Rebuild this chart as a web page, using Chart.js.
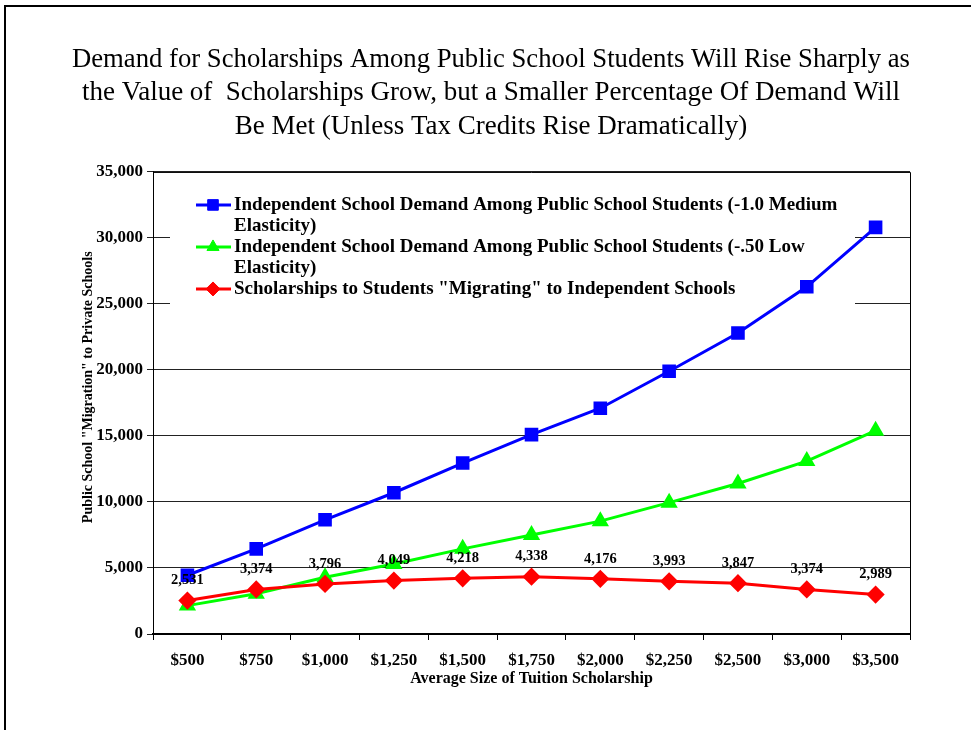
<!DOCTYPE html>
<html lang="en">
<head>
<meta charset="UTF-8">
<title>Demand for Scholarships</title>
<script src="https://cdn.jsdelivr.net/npm/chart.js@4.4.0/dist/chart.umd.min.js"></script>
<style>
  body { margin: 0; background: #fff; }
  canvas { display: block; }
  #frame {
    position: absolute; left: 4px; top: 5px; right: 0; bottom: 0;
    border-left: 2px solid #000; border-top: 2px solid #000;
    pointer-events: none;
  }
</style>
</head>
<body>
<canvas id="chart" width="971" height="730"></canvas>
<div id="frame"></div>
<script>
// average tuition scholarship sizes
const tuitionLabels = ['$500', '$750', '$1,000', '$1,250', '$1,500', '$1,750', '$2,000', '$2,250', '$2,500', '$3,000', '$3,500'];

// demand among public school students, -1.0 (medium) elasticity
const mediumDemand = [4450, 6450, 8650, 10700, 12950, 15100, 17100, 19900, 22800, 26300, 30800];

// demand among public school students, -.50 (low) elasticity
const lowDemand = [2150, 3050, 4300, 5300, 6450, 7500, 8550, 9950, 11400, 13100, 15400];

// scholarships to "migrating" students
const scholarships = [2531, 3374, 3796, 4049, 4218, 4338, 4176, 3993, 3847, 3374, 2989];

const seriesNames = [
  'Independent School Demand Among Public School Students (-1.0 Medium\nElasticity)',
  'Independent School Demand Among Public School Students (-.50 Low\nElasticity)',
  'Scholarships to Students "Migrating" to Independent Schools'
];

const yTicks = { min: 0, max: 35000, step: 5000 };

const serif = "'Liberation Serif', 'Times New Roman', serif";
Chart.defaults.font.family = serif;
Chart.defaults.color = '#000';

const fmt = v => Number(v).toLocaleString('en-US');

// legend sits inside the plot, on a white box over the gridlines
const insideLegend = {
  id: 'insideLegend',
  beforeDatasetsDraw(chart) {
    const { ctx, chartArea } = chart;
    const left = chartArea.left + 17;
    const top = chartArea.top + 7;
    const right = chartArea.right - 55;
    const bottom = chartArea.top + 138;
    ctx.save();
    ctx.fillStyle = '#fff';
    ctx.fillRect(left, top, right - left, bottom - top);

    // plot frame (top + right)
    ctx.strokeStyle = '#000';
    ctx.lineWidth = 1;
    ctx.beginPath();
    ctx.moveTo(chartArea.left, chartArea.top + 0.5);
    ctx.lineTo(chartArea.right + 0.5, chartArea.top + 0.5);
    ctx.lineTo(chartArea.right + 0.5, chartArea.bottom);
    ctx.stroke();

    ctx.font = 'bold 19px ' + serif;
    ctx.textBaseline = 'middle';
    ctx.textAlign = 'left';
    let y = chartArea.top + 33;
    chart.data.datasets.forEach(ds => {
      ctx.strokeStyle = ds.borderColor;
      ctx.lineWidth = 3;
      ctx.beginPath();
      ctx.moveTo(left + 26, y);
      ctx.lineTo(left + 61, y);
      ctx.stroke();
      ctx.fillStyle = ds.pointBackgroundColor;
      ctx.strokeStyle = ds.pointBorderColor;
      ctx.lineWidth = 1;
      Chart.helpers.drawPoint(ctx, {
        pointStyle: ds.pointStyle, radius: ds.pointRadius, rotation: 0, borderWidth: 1
      }, left + 43, y);
      ctx.fillStyle = '#000';
      const lines = ds.label.split('\n');
      lines.forEach((t, k) => ctx.fillText(t, left + 64, y + k * 21));
      y += lines.length * 21;
    });
    ctx.restore();
  }
};

// value labels above the scholarship points
const valueLabels = {
  id: 'valueLabels',
  afterDatasetsDraw(chart) {
    const { ctx } = chart;
    const idx = 2;
    const meta = chart.getDatasetMeta(idx);
    const data = chart.data.datasets[idx].data;
    ctx.save();
    ctx.font = 'bold 14.5px ' + serif;
    ctx.fillStyle = '#000';
    ctx.textAlign = 'center';
    ctx.textBaseline = 'middle';
    meta.data.forEach((pt, i) => {
      ctx.fillText(fmt(data[i]), pt.x, pt.y - 20);
    });
    ctx.restore();
  }
};

new Chart(document.getElementById('chart'), {
  type: 'line',
  data: {
    labels: tuitionLabels,
    datasets: [
      {
        label: seriesNames[0],
        data: mediumDemand,
        borderColor: '#0000ff',
        backgroundColor: '#0000ff',
        pointBackgroundColor: '#0000ff',
        pointBorderColor: '#0000ff',
        pointStyle: 'rect',
        pointRadius: 7.5,
        borderWidth: 3,
        order: 2
      },
      {
        label: seriesNames[1],
        data: lowDemand,
        borderColor: '#00ff00',
        backgroundColor: '#00ff00',
        pointBackgroundColor: '#00ff00',
        pointBorderColor: '#00ff00',
        pointStyle: 'triangle',
        pointRadius: 7,
        borderWidth: 3,
        order: 1
      },
      {
        label: seriesNames[2],
        data: scholarships,
        borderColor: '#ff0000',
        backgroundColor: '#ff0000',
        pointBackgroundColor: '#ff0000',
        pointBorderColor: '#ff0000',
        pointStyle: 'rectRot',
        pointRadius: 7,
        borderWidth: 3,
        order: 0
      }
    ]
  },
  options: {
    responsive: false,
    animation: false,
    events: [],
    layout: { padding: { left: 72, right: 61, top: 0, bottom: 43 } },
    plugins: {
      legend: { display: false },
      tooltip: { enabled: false },
      title: {
        display: true,
        text: [
          'Demand for Scholarships Among Public School Students Will Rise Sharply as',
          'the Value of  Scholarships Grow, but a Smaller Percentage Of Demand Will',
          'Be Met (Unless Tax Credits Rise Dramatically)'
        ],
        color: '#000',
        font: { size: 27, weight: 'normal', lineHeight: 1.24 },
        padding: { top: 43, bottom: 28.5 }
      }
    },
    scales: {
      x: {
        offset: true,
        grid: { display: true, drawOnChartArea: false, offset: true, tickLength: 6, color: '#000' },
        border: { color: '#000', width: 2 },
        ticks: { font: { size: 17, weight: 'bold', lineHeight: 1 }, color: '#000', padding: 12, maxRotation: 0, autoSkip: false },
        title: {
          display: true,
          text: 'Average Size of Tuition Scholarship',
          color: '#000',
          font: { size: 16, weight: 'bold', lineHeight: 1 },
          padding: { top: -10, bottom: 0 }
        }
      },
      y: {
        min: yTicks.min,
        max: yTicks.max,
        afterFit(scale) { scale.width = 81; },
        grid: { color: '#222', tickLength: 6 },
        border: { color: '#000', width: 1 },
        ticks: { stepSize: yTicks.step, font: { size: 17, weight: 'bold' }, color: '#000', padding: 4, callback: v => fmt(v) },
        title: {
          display: true,
          // leading spaces lift the rotated title a little above the axis middle
          text: '         Public School "Migration" to Private Schools',
          color: '#000',
          font: { size: 14, weight: 'bold' },
          padding: { top: 8, bottom: 4 }
        }
      }
    }
  },
  plugins: [insideLegend, valueLabels]
});
</script>
</body>
</html>
